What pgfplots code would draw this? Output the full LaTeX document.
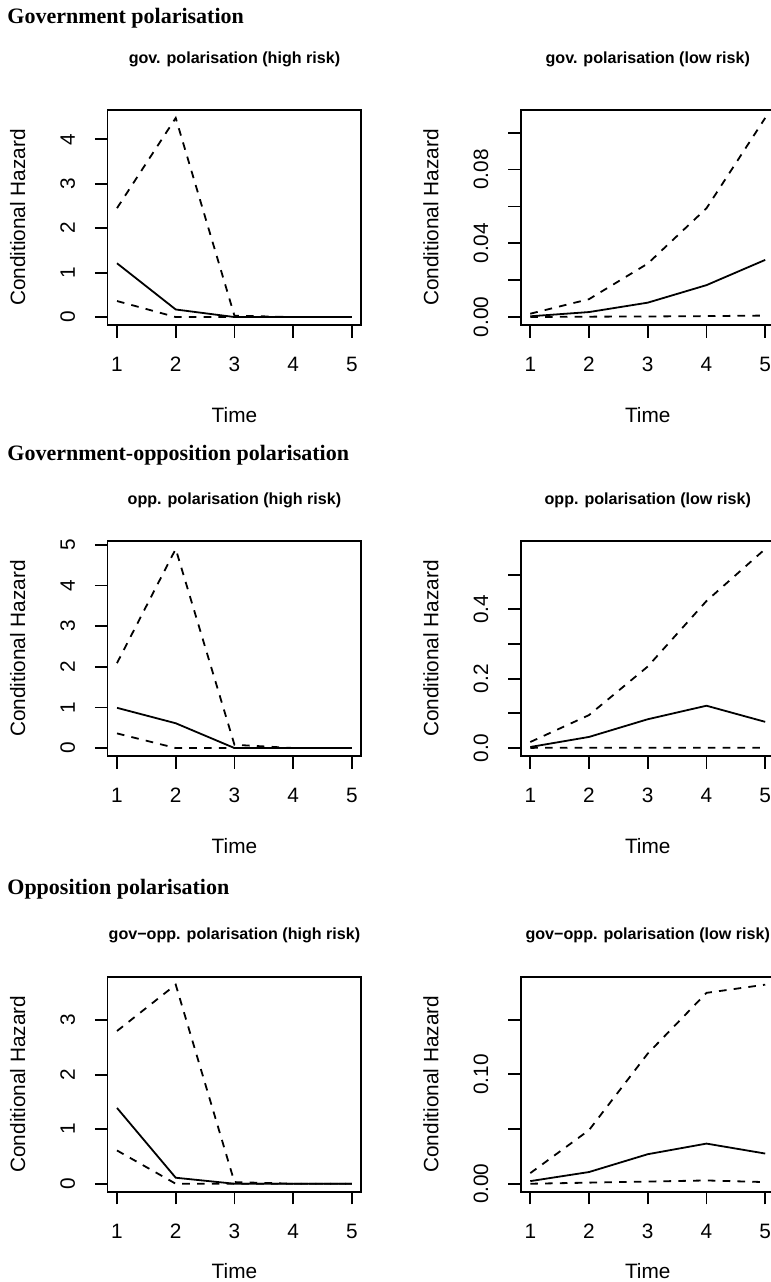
\documentclass[border=0pt]{standalone}
\usepackage{fontspec}
\setmainfont{Liberation Sans}
\newfontfamily\headfont{Liberation Serif}
\usepackage{pgfplots}
\usepackage{pgfplotstable}
\pgfplotsset{compat=1.18}

\pgfplotstableread{
t lo est hi
1 0.36 1.21 2.45
2 0.00 0.17 4.48
3 0.00 0.00 0.03
4 0.00 0.00 0.00
5 0.00 0.00 0.00
}\tA
\pgfplotstableread{
t lo est hi
1 0.0000 0.0004 0.0018
2 0.0002 0.0027 0.0097
3 0.0003 0.0078 0.0290
4 0.0005 0.0173 0.0590
5 0.0008 0.0310 0.1080
}\tB
\pgfplotstableread{
t lo est hi
1 0.36 0.99 2.09
2 0.00 0.61 4.90
3 0.00 0.00 0.08
4 0.00 0.00 0.00
5 0.00 0.00 0.00
}\tC
\pgfplotstableread{
t lo est hi
1 0.0005 0.0030 0.0174
2 0.0010 0.0320 0.0950
3 0.0010 0.0830 0.2350
4 0.0010 0.1220 0.4240
5 0.0010 0.0755 0.5740
}\tD
\pgfplotstableread{
t lo est hi
1 0.61 1.39 2.80
2 0.00 0.11 3.65
3 0.00 0.00 0.03
4 0.00 0.00 0.00
5 0.00 0.00 0.00
}\tE
\pgfplotstableread{
t lo est hi
1 0.0000 0.0024 0.0097
2 0.0010 0.0107 0.0490
3 0.0020 0.0270 0.1190
4 0.0030 0.0367 0.1745
5 0.0015 0.0276 0.1820
}\tF

\newcommand{\lfont}{\fontsize{10.4}{12}\selectfont}

\pgfplotsset{
 rpanel/.style={
  width=126.85pt, height=107.5pt, scale only axis,
  anchor=south west,
  xmin=0.84, xmax=5.16,
  xtick={1,2,3,4,5}, xticklabels={1,2,3,4,5},
  tick pos=left, tick align=outside,
  major tick length=6.3pt,
  axis line style={line width=0.9pt},
  every tick/.style={line width=0.9pt, black},
  xticklabel style={font=\lfont, anchor=north, text height=7.5pt, text depth=0pt},
  yticklabel style={font=\lfont, rotate=90, anchor=south, text height=7.5pt, text depth=0pt},
  xticklabel shift=6pt, yticklabel shift=6.5pt,
  xlabel={Time}, ylabel={Conditional Hazard},
  xlabel style={font=\lfont, at={([yshift=-45pt]axis description cs:0.5,0)}, anchor=center},
  ylabel style={font=\lfont, at={([xshift=-45pt]axis description cs:0,0.5)}, anchor=center},
  title style={font=\bfseries\fontsize{8.05}{9.5}\selectfont, at={([yshift=20.5pt]axis description cs:0.5,1)}, anchor=center, yshift=-6pt},
 },
 est/.style={black, line width=0.9pt},
 ci/.style={black, line width=0.9pt, dash pattern=on 3.8pt off 3.6pt},
}

\begin{document}
\begin{tikzpicture}
\useasboundingbox (0,0) rectangle (385.5pt,641pt);
\clip (0,0) rectangle (385.5pt,641pt);

\node[anchor=base west, inner sep=0pt, font=\headfont\bfseries\fontsize{11}{13}\selectfont] at (3.5pt,629.35pt) {Government polarisation};
\node[anchor=base west, inner sep=0pt, font=\headfont\bfseries\fontsize{11}{13}\selectfont] at (3.5pt,410.65pt) {Government-opposition polarisation};
\node[anchor=base west, inner sep=0pt, font=\headfont\bfseries\fontsize{11}{13}\selectfont] at (3.5pt,193.5pt) {Opposition polarisation};

% Row 1
\begin{axis}[rpanel, at={(53.8pt,478.5pt)},
  title={gov. polarisation (high risk)},
  title style={at={([yshift=25.5pt]axis description cs:0.5,1)}},
  ymin=-0.179, ymax=4.659, ytick={0,1,2,3,4}, yticklabels={0,1,2,3,4}]
\addplot[ci] table[x=t,y=hi] {\tA};
\addplot[est] table[x=t,y=est] {\tA};
\addplot[ci] table[x=t,y=lo] {\tA};
\end{axis}

\begin{axis}[rpanel, at={(260.45pt,478.5pt)},
  title={gov. polarisation (low risk)},
  title style={at={([yshift=25.5pt]axis description cs:0.5,1)}},
  ymin=-0.00432, ymax=0.11232, ytick={0,0.02,0.04,0.06,0.08,0.10}, yticklabels={0.00,,0.04,,0.08,}]
\addplot[ci] table[x=t,y=hi] {\tB};
\addplot[est] table[x=t,y=est] {\tB};
\addplot[ci] table[x=t,y=lo] {\tB};
\end{axis}

% Row 2
\begin{axis}[rpanel, at={(53.8pt,263pt)},
  title={opp. polarisation (high risk)},
  ymin=-0.196, ymax=5.096, ytick={0,1,2,3,4,5}, yticklabels={0,1,2,3,4,5}]
\addplot[ci] table[x=t,y=hi] {\tC};
\addplot[est] table[x=t,y=est] {\tC};
\addplot[ci] table[x=t,y=lo] {\tC};
\end{axis}

\begin{axis}[rpanel, at={(260.45pt,263pt)},
  title={opp. polarisation (low risk)},
  ymin=-0.02296, ymax=0.59696, ytick={0,0.1,0.2,0.3,0.4,0.5}, yticklabels={0.0,,0.2,,0.4,}]
\addplot[ci] table[x=t,y=hi] {\tD};
\addplot[est] table[x=t,y=est] {\tD};
\addplot[ci] table[x=t,y=lo] {\tD};
\end{axis}

% Row 3
\begin{axis}[rpanel, at={(53.8pt,45.15pt)},
  title={gov−opp. polarisation (high risk)},
  xlabel style={at={([yshift=-39.5pt]axis description cs:0.5,0)}},
  ymin=-0.146, ymax=3.796, ytick={0,1,2,3}, yticklabels={0,1,2,3}]
\addplot[ci] table[x=t,y=hi] {\tE};
\addplot[est] table[x=t,y=est] {\tE};
\addplot[ci] table[x=t,y=lo] {\tE};
\end{axis}

\begin{axis}[rpanel, at={(260.45pt,45.15pt)},
  title={gov−opp. polarisation (low risk)},
  xlabel style={at={([yshift=-39.5pt]axis description cs:0.5,0)}},
  ymin=-0.00728, ymax=0.18928, ytick={0,0.05,0.10,0.15}, yticklabels={0.00,,0.10,}]
\addplot[ci] table[x=t,y=hi] {\tF};
\addplot[est] table[x=t,y=est] {\tF};
\addplot[ci] table[x=t,y=lo] {\tF};
\end{axis}
\end{tikzpicture}
\end{document}
